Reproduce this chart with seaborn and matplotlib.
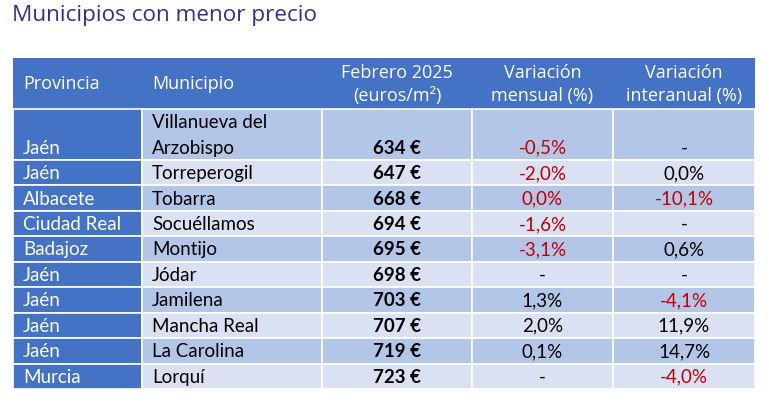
import matplotlib.pyplot as plt
import matplotlib.patches as mpatches
import seaborn as sns

# Table contents
provincias = ['Jaén', 'Jaén', 'Albacete', 'Ciudad Real', 'Badajoz', 'Jaén',
              'Jaén', 'Jaén', 'Jaén', 'Murcia']
municipios = ['Villanueva del\nArzobispo', 'Torreperogil', 'Tobarra', 'Socuéllamos',
              'Montijo', 'Jódar', 'Jamilena', 'Mancha Real', 'La Carolina', 'Lorquí']
precios = [634, 647, 668, 694, 695, 698, 703, 707, 719, 723]
var_mensual = [-0.5, -2.0, 0.0, -1.6, -3.1, None, 1.3, 2.0, 0.1, None]
var_interanual = [None, 0.0, -10.1, None, 0.6, None, -4.1, 11.9, 14.7, -4.0]
# red text flags, as in the source table
rojo_mensual = [True, True, True, True, True, False, False, False, False, False]
rojo_interanual = [False, False, True, False, False, False, True, False, False, True]
cabeceras = ['Provincia', 'Municipio', 'Febrero 2025\n(euros/m²)',
             'Variación\nmensual (%)', 'Variación\ninteranual (%)']

sns.set_theme(style='white')
plt.rcParams['font.family'] = ['Lato', 'DejaVu Sans']

AZUL = '#4472C4'
OSCURO = '#B4C6E7'
CLARO = '#D9E1F2'
ROJO = '#C00000'
TITULO = '#2E3192'

col_edges = [13, 142, 322, 472, 613, 755]
top, bottom = 58, 389
unit = (bottom - top) / 13
row_units = [2] + [2] + [1] * 9   # header, first row (two lines), rest


def fmt(v):
    if v is None:
        return '-'
    return f'{v:.1f}'.replace('.', ',') + '%'


fig = plt.figure(figsize=(7.69, 4.04), dpi=100)
ax = fig.add_axes([0, 0, 1, 1])
ax.set_xlim(0, 769)
ax.set_ylim(404, 0)
ax.axis('off')

fig.text(12 / 769, 1 - 15 / 404, 'Municipios con menor precio', color=TITULO,
         fontsize=16.2, family=['Open Sans', 'DejaVu Sans'], va='center', ha='left')

# header
h0 = top
h1 = top + row_units[0] * unit
ax.add_patch(mpatches.Rectangle((col_edges[0], h0), col_edges[-1] - col_edges[0], h1 - h0,
                                facecolor=AZUL, edgecolor='none'))
for j, txt in enumerate(cabeceras):
    xc = col_edges[j] + 10 if j < 2 else (col_edges[j] + col_edges[j + 1]) / 2
    ax.text(xc, (h0 + h1) / 2 + 1, txt, color='white', fontsize=13,
            family=['Open Sans', 'DejaVu Sans'], ha='left' if j < 2 else 'center',
            va='center', linespacing=1.3)

y = h1
for i in range(len(provincias)):
    h = row_units[i + 1] * unit
    fondo = OSCURO if i % 2 == 0 else CLARO
    for j in range(5):
        color = AZUL if j == 0 else fondo
        ax.add_patch(mpatches.Rectangle((col_edges[j], y), col_edges[j + 1] - col_edges[j], h,
                                        facecolor=color, edgecolor='white', linewidth=1.2))
    yc = y + h - unit / 2 + 1   # lower line of the row
    ax.text(col_edges[0] + 10, yc, provincias[i], color='white', fontsize=13.5,
            ha='left', va='center')
    if '\n' in municipios[i]:
        for k, parte in enumerate(municipios[i].split('\n')):
            ax.text(col_edges[1] + 10, y + unit * k + unit / 2 + 1, parte, color='black',
                    fontsize=13.5, ha='left', va='center')
    else:
        ax.text(col_edges[1] + 10, yc, municipios[i], color='black', fontsize=13.5,
                ha='left', va='center')
    ax.text((col_edges[2] + col_edges[3]) / 2, yc, f'{precios[i]} €', color='black',
            fontsize=13.5, fontweight='bold', ha='center', va='center')
    ax.text((col_edges[3] + col_edges[4]) / 2, yc, fmt(var_mensual[i]),
            color=ROJO if rojo_mensual[i] else 'black', fontsize=13.5, ha='center', va='center')
    ax.text((col_edges[4] + col_edges[5]) / 2, yc, fmt(var_interanual[i]),
            color=ROJO if rojo_interanual[i] else 'black', fontsize=13.5, ha='center', va='center')
    y += h

fig.savefig('out.png', dpi=100)
